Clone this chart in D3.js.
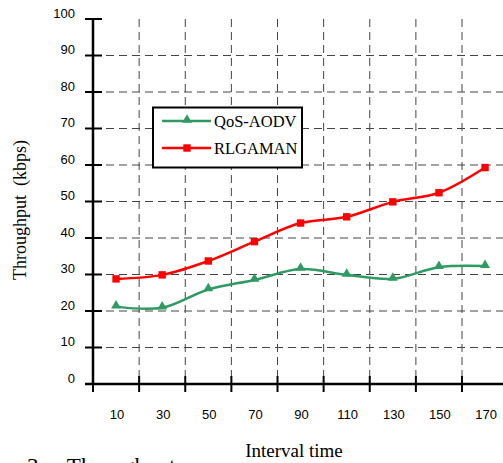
<!DOCTYPE html>
<html><head><meta charset="utf-8">
<script src="https://cdn.jsdelivr.net/npm/d3@7"></script>
<style>body{margin:0;background:#fff}svg{display:block}</style>
</head><body>
<svg id="c" width="503" height="463"></svg>
<script>
const xValues = [10, 30, 50, 70, 90, 110, 130, 150, 170];
const qosAodv = [21.2, 20.9, 25.9, 28.5, 31.5, 29.9, 28.8, 32.0, 32.3];
const rlgaman = [28.8, 29.9, 33.7, 39.0, 44.1, 45.8, 49.9, 52.4, 59.3];
const yTicks = [0, 10, 20, 30, 40, 50, 60, 70, 80, 90, 100];
const xTickMarks = [0, 20, 40, 60, 80, 100, 120, 140, 160];
const xLabels = [10, 30, 50, 70, 90, 110, 130, 150, 170];
const seriesNames = ["QoS-AODV", "RLGAMAN"];

const svg = d3.select("#c");
const x = d3.scaleLinear().domain([0, 160]).range([93, 462]);
const y = d3.scaleLinear().domain([0, 100]).range([384, 19]);
const sans = "Arial, 'Liberation Sans', sans-serif";
const serif = "'Times New Roman', 'Liberation Serif', serif";

// grid
const grid = svg.append("g").attr("stroke", "#444").attr("stroke-width", 1).attr("stroke-dasharray", "8,5");
grid.selectAll("line.h").data(yTicks.filter(d => d > 0 && d < 100)).join("line")
  .attr("x1", x(0)).attr("x2", 503).attr("y1", d => y(d)).attr("y2", d => y(d));
grid.selectAll("line.v").data(xTickMarks.filter(d => d > 0)).join("line")
  .attr("x1", d => x(d)).attr("x2", d => x(d)).attr("y1", y(100)).attr("y2", y(0));

// axes
svg.append("line").attr("x1", x(0)).attr("x2", x(0)).attr("y1", y(100)).attr("y2", y(0))
  .attr("stroke", "#000").attr("stroke-width", 2.5);
svg.append("line").attr("x1", x(0) - 8).attr("x2", 503).attr("y1", y(0)).attr("y2", y(0))
  .attr("stroke", "#000").attr("stroke-width", 2.5);
svg.append("g").selectAll("line").data(yTicks).join("line")
  .attr("x1", x(0) - 8).attr("x2", x(0) + 9).attr("y1", d => y(d)).attr("y2", d => y(d))
  .attr("stroke", "#000").attr("stroke-width", 2);
svg.append("g").selectAll("line").data(xTickMarks).join("line")
  .attr("x1", d => x(d)).attr("x2", d => x(d)).attr("y1", y(0) - 8).attr("y2", y(0) + 8)
  .attr("stroke", "#000").attr("stroke-width", 2);

svg.append("g").selectAll("text").data(yTicks).join("text")
  .attr("x", 75).attr("y", d => y(d) - 6).attr("dy", "0.35em").attr("text-anchor", "end")
  .attr("font-family", sans).attr("font-size", 13).text(d => d);
svg.append("g").selectAll("text").data(xLabels).join("text")
  .attr("x", d => x(d) + 1).attr("y", 414).attr("dy", "0.35em").attr("text-anchor", "middle")
  .attr("font-family", sans).attr("font-size", 13).text(d => d);

// titles
svg.append("text").attr("transform", "translate(26,210) rotate(-90)").attr("text-anchor", "middle")
  .attr("font-family", serif).attr("font-size", 18).attr("xml:space", "preserve").text("Throughput  (kbps)");
svg.append("text").attr("x", 294).attr("y", 457).attr("text-anchor", "middle")
  .attr("font-family", serif).attr("font-size", 19).text("Interval time");
svg.append("text").attr("x", 27).attr("y", 474).attr("font-family", serif).attr("font-size", 23)
  .attr("xml:space", "preserve").text("3.    Throughput");

// lines
const green = "#2f9a62", red = "#ff0000";
const line = d3.line().x((d, i) => x(xValues[i])).y(d => y(d)).curve(d3.curveCatmullRom.alpha(0.5));
svg.append("path").attr("d", line(rlgaman)).attr("fill", "none").attr("stroke", red).attr("stroke-width", 2.5);
svg.append("path").attr("d", line(qosAodv)).attr("fill", "none").attr("stroke", green).attr("stroke-width", 2.5);

const tri = d3.symbol().type(d3.symbolTriangle).size(42);
svg.append("g").selectAll("path").data(qosAodv).join("path")
  .attr("d", tri).attr("fill", green)
  .attr("transform", (d, i) => `translate(${x(xValues[i])},${y(d) - 1})`);
svg.append("g").selectAll("rect").data(rlgaman).join("rect")
  .attr("x", (d, i) => x(xValues[i]) - 3.7).attr("y", d => y(d) - 3.7)
  .attr("width", 7.4).attr("height", 7.4).attr("fill", red);

// legend
const lg = svg.append("g");
lg.append("rect").attr("x", 153).attr("y", 107.5).attr("width", 149).attr("height", 60)
  .attr("fill", "#fff").attr("stroke", "#000").attr("stroke-width", 2);
const items = [{name: seriesNames[0], c: green, t: "tri", yy: 121}, {name: seriesNames[1], c: red, t: "sq", yy: 148}];
items.forEach(it => {
  lg.append("line").attr("x1", 162).attr("x2", 211).attr("y1", it.yy).attr("y2", it.yy)
    .attr("stroke", it.c).attr("stroke-width", 2.5);
  if (it.t === "tri") lg.append("path").attr("d", tri).attr("fill", it.c).attr("transform", `translate(187,${it.yy - 1})`);
  else lg.append("rect").attr("x", 183.3).attr("y", it.yy - 3.7).attr("width", 7.4).attr("height", 7.4).attr("fill", it.c);
  lg.append("text").attr("x", 214).attr("y", it.yy).attr("dy", "0.35em")
    .attr("font-family", serif).attr("font-size", 16.5).text(it.name);
});
</script>
</body></html>
